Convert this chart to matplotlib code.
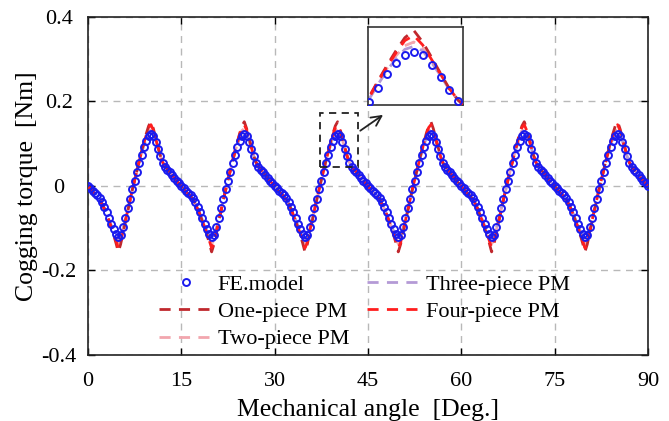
import numpy as np
import matplotlib
matplotlib.use("Agg")
import matplotlib.pyplot as plt
from matplotlib.patches import Rectangle

plt.rcParams['font.family'] = ['Liberation Serif', 'DejaVu Serif']
plt.rcParams['axes.unicode_minus'] = False

# one 15-degree period (0.375 deg step); the waveform repeats 6 times
step = 0.375
n_periods = 6
fe_period = [0.000, -0.006, -0.011, -0.017, -0.022, -0.029, -0.038, -0.049, -0.062, -0.075,
             -0.089, -0.102, -0.113, -0.121, -0.116, -0.097, -0.075, -0.053, -0.030, -0.008,
             0.012, 0.033, 0.054, 0.073, 0.092, 0.107, 0.118, 0.122, 0.118, 0.105,
             0.088, 0.070, 0.055, 0.045, 0.038, 0.032, 0.025, 0.019, 0.012, 0.006]
one_period = [0.000, -0.007, -0.013, -0.019, -0.025, -0.032, -0.042, -0.054, -0.068, -0.083,
              -0.099, -0.116, -0.135, -0.156, -0.138, -0.112, -0.085, -0.060, -0.034, -0.009,
              0.014, 0.038, 0.061, 0.083, 0.104, 0.124, 0.142, 0.152, 0.136, 0.115,
              0.093, 0.072, 0.056, 0.046, 0.039, 0.033, 0.026, 0.019, 0.012, 0.006]
two_period = [0.000, -0.007, -0.013, -0.019, -0.025, -0.032, -0.042, -0.054, -0.068, -0.082,
              -0.096, -0.110, -0.124, -0.137, -0.128, -0.104, -0.082, -0.058, -0.033, -0.009,
              0.014, 0.037, 0.059, 0.080, 0.100, 0.117, 0.131, 0.136, 0.128, 0.110,
              0.091, 0.071, 0.056, 0.046, 0.039, 0.033, 0.026, 0.019, 0.012, 0.006]
three_period = [0.000, -0.007, -0.012, -0.018, -0.024, -0.031, -0.041, -0.053, -0.066, -0.080,
                -0.094, -0.107, -0.120, -0.130, -0.123, -0.101, -0.080, -0.057, -0.032, -0.009,
                0.013, 0.036, 0.058, 0.078, 0.097, 0.113, 0.126, 0.130, 0.124, 0.108,
                0.090, 0.071, 0.056, 0.046, 0.039, 0.033, 0.026, 0.019, 0.012, 0.006]
four_period = [0.000, -0.007, -0.013, -0.019, -0.025, -0.032, -0.042, -0.054, -0.068, -0.083,
               -0.098, -0.113, -0.129, -0.147, -0.134, -0.108, -0.084, -0.059, -0.034, -0.009,
               0.014, 0.038, 0.060, 0.082, 0.102, 0.121, 0.138, 0.145, 0.132, 0.112,
               0.092, 0.072, 0.056, 0.046, 0.039, 0.033, 0.026, 0.019, 0.012, 0.006]

labels = ['FE.model', 'One-piece PM', 'Two-piece PM', 'Three-piece PM', 'Four-piece PM']
xticks = [0, 15, 30, 45, 60, 75, 90]
yticks = [-0.4, -0.2, 0, 0.2, 0.4]
ytick_labels = ['-0.4', '-0.2', '0', '0.2', '0.4']


def full(p):
    return np.append(np.tile(p, n_periods), p[0])


angle = np.arange(len(fe_period) * n_periods + 1) * step
fe = full(fe_period)
one = full(one_period)
two = full(two_period)
three = full(three_period)
four = full(four_period)

c_fe = '#1a1aee'
c_one = '#c0282d'
c_two = '#f2a6ae'
c_three = '#b49ad6'
c_four = '#ff1e1e'

fig = plt.figure(figsize=(6.69, 4.21), dpi=100)
ax = fig.add_axes([0.1315, 0.1568, 0.837, 0.803])


def draw(a, lw=2.0, ms=5):
    a.plot(angle, fe, 'o', mfc='none', mec=c_fe, mew=1.4, ms=ms, label=labels[0], zorder=5)
    a.plot(angle, one, '--', color=c_one, lw=lw, dashes=(4, 3), label=labels[1], zorder=3)
    a.plot(angle, two, '--', color=c_two, lw=lw, dashes=(4, 3), label=labels[2], zorder=2)
    a.plot(angle, three, '--', color=c_three, lw=lw, dashes=(4, 3), label=labels[3], zorder=2)
    a.plot(angle, four, '--', color=c_four, lw=lw, dashes=(4, 3), label=labels[4], zorder=4)


draw(ax)
ax.set_xlim(0, 90)
ax.set_ylim(-0.4, 0.4)
ax.set_xticks(xticks)
ax.set_yticks(yticks)
ax.set_yticklabels(ytick_labels, ha='center')
ax.grid(True, ls=(0, (5, 4)), color='#b8b8b8', lw=1.0)
ax.tick_params(direction='in', top=True, right=True, labelsize=16, length=5, width=1.0)
ax.tick_params(axis='x', pad=12)
ax.tick_params(axis='y', pad=21)
for s in ax.spines.values():
    s.set_linewidth(1.2)
    s.set_color('#222222')
ax.set_xlabel('Mechanical angle  [Deg.]', fontsize=18.5, labelpad=6)
ax.set_ylabel('Cogging torque  [Nm]', fontsize=18.5, labelpad=2)

leg = ax.legend(ncol=2, loc='lower left', bbox_to_anchor=(0.103, -0.023), frameon=False,
                fontsize=16, handlelength=2.4, handletextpad=0.25, columnspacing=0.8,
                labelspacing=0.31, borderaxespad=0.2)

# dashed box around one peak and arrow to the inset
ax.add_patch(Rectangle((37.3, 0.045), 6.1, 0.128, fill=False, ls=(0, (4, 3)), lw=1.3,
                       ec='#222222', zorder=6))
ax.annotate('', xy=(47.8, 0.172), xytext=(43.4, 0.127),
            arrowprops=dict(arrowstyle='->', lw=1.3, color='#222222', mutation_scale=18))

ins = ax.inset_axes([0.5, 0.74, 0.17, 0.231])
draw(ins, lw=2.0, ms=5)
ins.set_xlim(38.2, 42.2)
ins.set_ylim(0.05, 0.157)
ins.set_xticks([])
ins.set_yticks([])
for s in ins.spines.values():
    s.set_linewidth(1.2)
    s.set_color('#333333')

fig.savefig('out.png', dpi=100)
